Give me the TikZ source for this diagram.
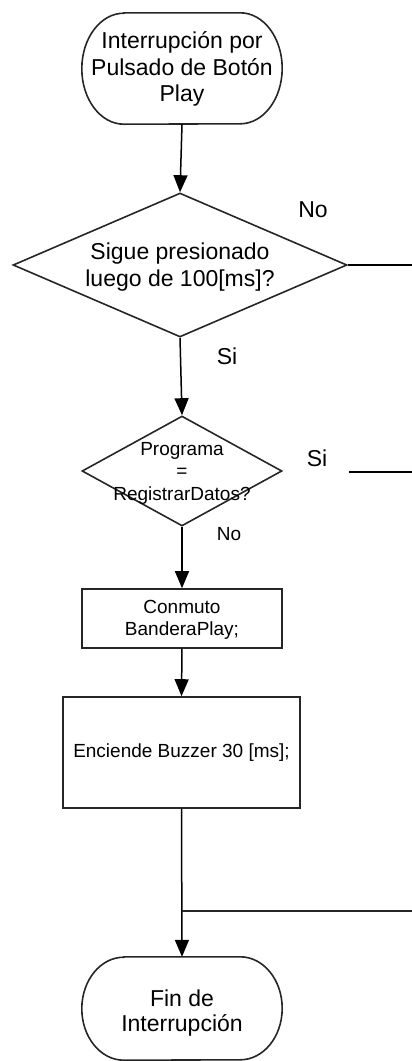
\documentclass[tikz,border=0pt]{standalone}
\usepackage{fontspec}
\setmainfont{Liberation Sans}
\usetikzlibrary{shapes.geometric,arrows.meta,calc}
\begin{document}
\begin{tikzpicture}[x=1pt,y=-1pt,
  ln/.style={line width=1.6pt,draw=black!85},
  conn/.style={line width=1.5pt,draw=black},
  arr/.style={conn,-{Triangle[length=17pt,width=14pt]}},
  big/.style={font=\fontsize{23}{26.5}\selectfont,align=center,inner sep=0pt},
  small/.style={font=\fontsize{19}{22}\selectfont,align=center,inner sep=0pt},
  termbox/.style={draw=none,minimum width=200pt,inner sep=0pt},
  dia/.style={shape=diamond,ln,inner sep=0pt},
  procbox/.style={rectangle,ln,inner sep=0pt},
  lbl/.style={font=\fontsize{23}{26}\selectfont,inner sep=0pt},
  lbls/.style={font=\fontsize{19}{22}\selectfont,inner sep=0pt}]
\useasboundingbox (0,0) rectangle (412,1061);

% start terminal
\node[termbox,minimum height=111pt] (s) at (182,68.5) {};
\draw[ln] ($(s.north west)+(42,0)$) -- ($(s.north east)+(-42,0)$)
  arc[start angle=90,end angle=-90,x radius=42pt,y radius=55.5pt]
  -- ($(s.south west)+(42,0)$)
  arc[start angle=-90,end angle=-270,x radius=42pt,y radius=55.5pt] -- cycle;
\node[big] (stext) at (182,69) {Interrupción por\\Pulsado de Botón\\Play};

% decision 1
\node[dia,minimum width=334pt,minimum height=144pt] (d1) at (180,265) {};
\node[big,font=\fontsize{23}{27}\selectfont] (d1text) at (180,267) {Sigue presionado\\luego de 100[ms]?};

% decision 2
\node[dia,minimum width=200pt,minimum height=110pt] (d2) at (182,471) {};
\node[small,font=\fontsize{19}{22.5}\selectfont] (d2text) at (182,473) {Programa\\=\\RegistrarDatos?};

% process boxes
\node[procbox,minimum width=200pt,minimum height=59pt] (p1) at (182,618.5) {};
\node[small] (p1text) at (182,620) {Conmuto\\BanderaPlay;};
\node[procbox,minimum width=237pt,minimum height=111pt] (p2) at (181.5,752.5) {};
\node[small] (p2text) at (181.5,753) {Enciende Buzzer 30 [ms];};

% end terminal
\node[termbox,minimum height=103pt] (e) at (182,1008.5) {};
\draw[ln] ($(e.north west)+(42,0)$) -- ($(e.north east)+(-42,0)$)
  arc[start angle=90,end angle=-90,x radius=42pt,y radius=51.5pt]
  -- ($(e.south west)+(42,0)$)
  arc[start angle=-90,end angle=-270,x radius=42pt,y radius=51.5pt] -- cycle;
\node[big,font=\fontsize{23}{25}\selectfont] (etext) at (182,1013) {Fin de\\Interrupción};

% coordinates for free ends
\coordinate (d1out) at (412,265);
\coordinate (d2start) at (349,472);
\coordinate (d2out) at (412,472);
\coordinate (joinin) at (412,911);
\coordinate (join) at (182,911);

% connectors
\draw[arr] (s.south) -- (d1.north);
\draw[conn] (d1.east) -- (d1out);
\draw[arr] (d1.south) -- (d2.north);
\draw[conn] (d2start) -- (d2out);
\draw[arr] (d2.south) -- (p1.north);
\draw[arr] (p1.south) -- (p2.north);
\draw[arr] (p2.south) -- (e.north);
\draw[ln] (joinin) -- (join);

% labels
\node[lbl] (lno1) at (313,210) {No};
\node[lbl] (lsi1) at (227,356) {Si};
\node[lbl] (lsi2) at (317,458) {Si};
\node[lbls] (lno2) at (229,534) {No};
\end{tikzpicture}
\end{document}
